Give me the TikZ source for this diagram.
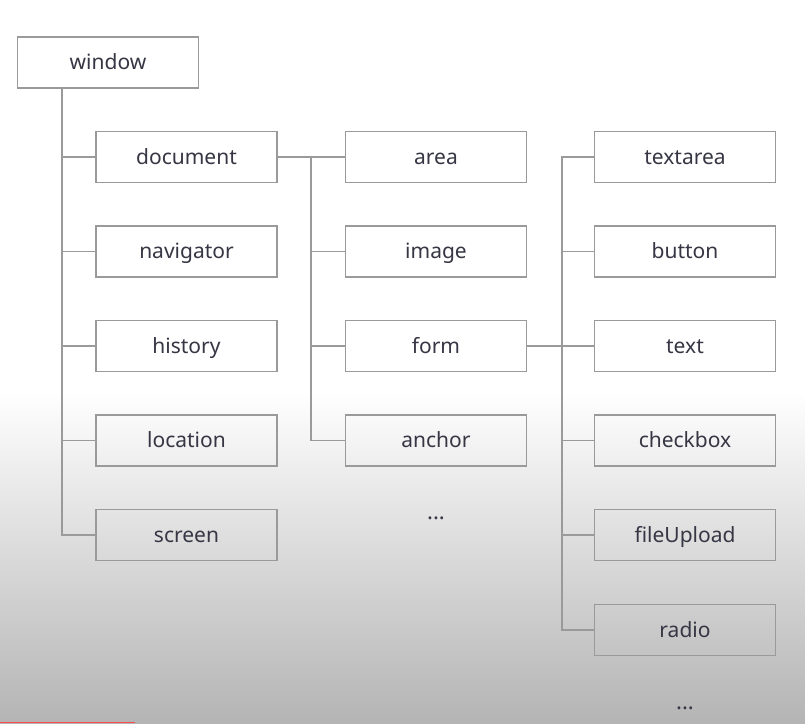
\documentclass[tikz,border=0pt]{standalone}
\usepackage{fontspec}
\setmainfont{Noto Sans}
\definecolor{linegray}{HTML}{9A9A9A}
\definecolor{txtgray}{HTML}{363644}
\definecolor{bgbottom}{HTML}{B4B4B4}
\begin{document}
\begin{tikzpicture}[x=1pt,y=-1pt,
  box/.style={draw=linegray,line width=1.5pt,minimum width=181pt,minimum height=51pt,inner sep=0pt,
    text height=16pt,text depth=2pt,
    font=\fontsize{21}{24}\selectfont,text=txtgray},
  conn/.style={draw=linegray,line width=1.5pt},
  dots/.style={font=\fontsize{22}{24}\selectfont\bfseries,text=txtgray,inner sep=0pt}]
\useasboundingbox (0,0) rectangle (805,723);
\fill[white] (0,0) rectangle (805,392);
\shade[top color=white,bottom color=bgbottom] (0,391) rectangle (805,723);
\fill[red!70!white] (0,721.5) rectangle (135,723);
% column 0
\node[box] (window) at (108,62.5) {window};
% column 1
\node[box] (document) at (186.5,157) {document};
\node[box] (navigator) at (186.5,251.5) {navigator};
\node[box] (history) at (186.5,346) {history};
\node[box] (location) at (186.5,440.5) {location};
\node[box] (screen) at (186.5,535) {screen};
% column 2
\node[box] (area) at (436,157) {area};
\node[box] (image) at (436,251.5) {image};
\node[box] (form) at (436,346) {form};
\node[box] (anchor) at (436,440.5) {anchor};
\node[dots] (dots2) at (436,518) {...};
% column 3
\node[box] (textarea) at (685,157) {textarea};
\node[box] (button) at (685,251.5) {button};
\node[box] (text) at (685,346) {text};
\node[box] (checkbox) at (685,440.5) {checkbox};
\node[box] (fileUpload) at (685,535) {fileUpload};
\node[box] (radio) at (685,630) {radio};
\node[dots] (dots3) at (685,708) {...};
% trunk from window
\coordinate (t0) at (62,0);
\draw[conn] (window.south -| t0) |- (screen.west);
\foreach \n in {document,navigator,history,location}
  \draw[conn] (\n.west -| t0) -- (\n.west);
% trunk from document
\coordinate (t1) at (311,0);
\draw[conn] (document.east) -- (area.west);
\draw[conn] (area.west -| t1) |- (anchor.west);
\foreach \n in {image,form}
  \draw[conn] (\n.west -| t1) -- (\n.west);
% trunk from form
\coordinate (t2) at (562,0);
\draw[conn] (form.east) -- (text.west);
\draw[conn] (textarea.west) -| (t2 |- radio.west) -- (radio.west);
\foreach \n in {button,checkbox,fileUpload}
  \draw[conn] (\n.west -| t2) -- (\n.west);
\end{tikzpicture}
\end{document}
